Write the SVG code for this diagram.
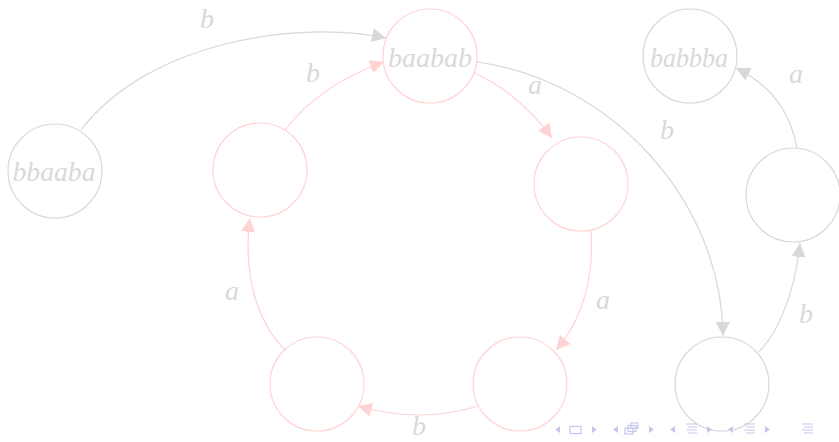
<svg xmlns="http://www.w3.org/2000/svg" width="839" height="442" viewBox="0 0 839 442">
<style>
.g{fill:none;stroke:#d8d8d8;stroke-width:1.2}
.p{fill:none;stroke:#ffd3d3;stroke-width:1.2}
.t{font-family:"Liberation Serif","DejaVu Serif",serif;font-style:italic;font-size:28px;fill:#d9d9d9;text-anchor:middle}
.n{fill:none;stroke:#c6c6ee;stroke-width:1.2}
.nf{fill:#c6c6ee}
</style>
<defs>
<marker id="ag" viewBox="0 0 10 10" refX="10" refY="5" markerWidth="14" markerHeight="14" markerUnits="userSpaceOnUse" orient="auto"><path d="M0,0 L10,5 L0,10 z" fill="#d8d8d8"/></marker>
<marker id="ap" viewBox="0 0 10 10" refX="10" refY="5" markerWidth="14" markerHeight="14" markerUnits="userSpaceOnUse" orient="auto"><path d="M0,0 L10,5 L0,10 z" fill="#ffd3d3"/></marker>
</defs>
<rect width="839" height="442" fill="#ffffff"/>
<g id="connectors">
<path class="g" d="M81 130 C150 40 300 20 386 38" marker-end="url(#ag)"/>
<path class="p" d="M285 130 C310 97 345 76 384 62" marker-end="url(#ap)"/>
<path class="p" d="M473 72 C505 87 530 108 552 138" marker-end="url(#ap)"/>
<path class="g" d="M477 62 C610 80 722 200 723 336" marker-end="url(#ag)"/>
<path class="p" d="M591 231 C594 280 582 320 556 350" marker-end="url(#ap)"/>
<path class="p" d="M478 406 C440 418 400 418 358 406" marker-end="url(#ap)"/>
<path class="p" d="M285 350 C255 320 243 270 250 218" marker-end="url(#ap)"/>
<path class="g" d="M759 352 C780 330 795 290 800 243" marker-end="url(#ag)"/>
<path class="g" d="M797 148 C790 110 770 85 736 68" marker-end="url(#ag)"/>
<text class="t" x="207" y="28">b</text>
<text class="t" x="313" y="82">b</text>
<text class="t" x="535" y="94">a</text>
<text class="t" x="667" y="139">b</text>
<text class="t" x="603" y="309">a</text>
<text class="t" x="419" y="435">b</text>
<text class="t" x="232" y="300">a</text>
<text class="t" x="806" y="323">b</text>
<text class="t" x="796" y="83">a</text>
</g>
<g id="n_bbaaba"><circle class="g" cx="55" cy="171" r="47"/><text class="t" x="54" y="181" textLength="83" lengthAdjust="spacingAndGlyphs">bbaaba</text></g>
<g id="n_baabab"><circle class="p" cx="430" cy="56" r="47"/><text class="t" x="430" y="67" textLength="84" lengthAdjust="spacingAndGlyphs">baabab</text></g>
<g id="n_babbba"><circle class="g" cx="690" cy="56" r="47"/><text class="t" x="689" y="67" textLength="78" lengthAdjust="spacingAndGlyphs">babbba</text></g>
<g id="n_p1"><circle class="p" cx="260" cy="170" r="47"/></g>
<g id="n_p2"><circle class="p" cx="581" cy="184" r="47"/></g>
<g id="n_p3"><circle class="p" cx="520" cy="384" r="47"/></g>
<g id="n_p4"><circle class="p" cx="317" cy="384" r="47"/></g>
<g id="n_g1"><circle class="g" cx="793" cy="195" r="47"/></g>
<g id="n_g2"><circle class="g" cx="722" cy="384" r="47"/></g>
<g id="nav">
<path class="nf" d="M560 426 L555 429.5 L560 433 z"/>
<rect class="n" x="570" y="426.5" width="11" height="7"/>
<path class="nf" d="M592 426 L597 429.5 L592 433 z"/>
<path class="nf" d="M618 426 L613 429.5 L618 433 z"/>
<rect class="n" x="625" y="428" width="8" height="6"/>
<rect class="n" x="628" y="425.5" width="8" height="6"/>
<rect class="n" x="631" y="423" width="7" height="5"/>
<path class="nf" d="M649 426 L654 429.5 L649 433 z"/>
<path class="nf" d="M675 426 L670 429.5 L675 433 z"/>
<path class="n" d="M686 424 H697 M688 427 H697 M686 430 H697 M688 433 H697"/>
<path class="nf" d="M707 426 L712 429.5 L707 433 z"/>
<path class="nf" d="M733 426 L728 429.5 L733 433 z"/>
<path class="n" d="M744 424 H755 M746 427 H755 M744 430 H755 M746 433 H755"/>
<path class="nf" d="M765 426 L770 429.5 L765 433 z"/>
<path class="n" d="M802 424 H813 M804 427 H813 M802 430 H813 M804 433 H813"/>
</g>
</svg>
